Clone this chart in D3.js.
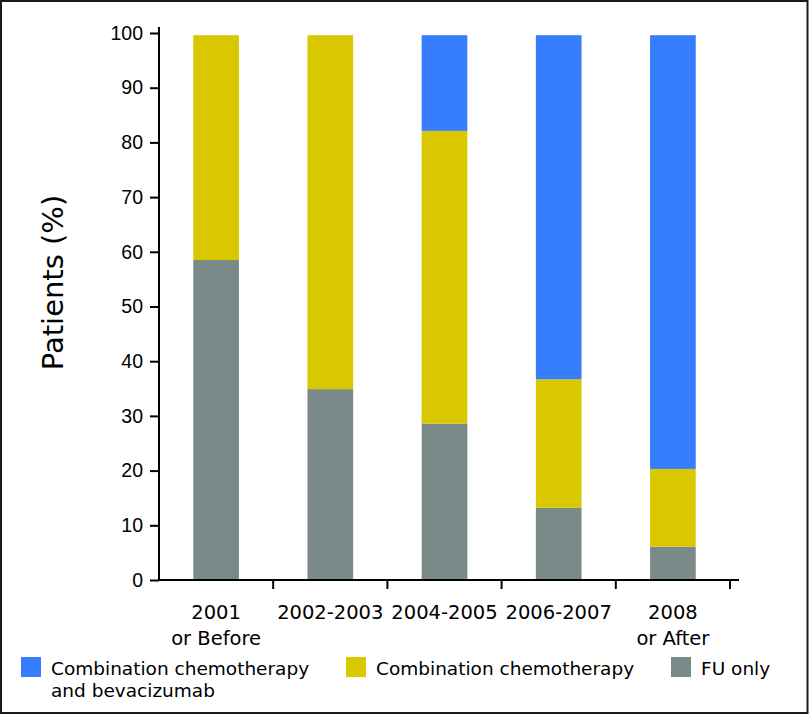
<!DOCTYPE html>
<html lang="en">
  <head>
    <meta charset="utf-8" />
    <title>Patients by treatment and period</title>
    <script type="text/javascript" src="https://d3js.org/d3.v7.min.js"></script>
    <style>
      body {
        margin: 0;
        background: white;
      }
      svg {
        display: block;
        font-family: "DejaVu Sans", sans-serif;
      }
      .axis path,
      .axis line {
        stroke: black;
        stroke-width: 2px;
      }
      .axis text {
        font-size: 19.5px;
        fill: black;
      }
    </style>
  </head>
  <body>
    <script>
      // data
      let periods = ["2001 or Before", "2002-2003", "2004-2005", "2006-2007", "2008 or After"];
      let periodLines = [["2001", "or Before"], ["2002-2003"], ["2004-2005"], ["2006-2007"], ["2008", "or After"]];
      let seriesNames = ["FU only", "Combination chemotherapy", "Combination chemotherapy and bevacizumab"];
      let fuOnly = [58.5, 34.9, 28.6, 13.2, 6.1];
      let comboChemo = [41.1, 64.7, 53.5, 23.5, 14.2];
      let comboBev = [0, 0, 17.5, 62.9, 79.3];
      let yTicks = [0, 10, 20, 30, 40, 50, 60, 70, 80, 90, 100];

      let colors = ["#7a8a89", "#d9c800", "#377eff"];

      let w = 809;
      let h = 715;
      let plotLeft = 159;
      let plotRight = 730;
      let plotTop = 33;
      let plotBottom = 580;

      let rows = periods.map((p, i) => ({
        period: p,
        fu: fuOnly[i],
        combo: comboChemo[i],
        bev: comboBev[i],
      }));

      let stack = d3.stack().keys(["fu", "combo", "bev"]);
      let layers = stack(rows);

      let svg = d3.select("body").append("svg").attr("width", w).attr("height", h);

      // frame round the figure
      svg
        .append("rect")
        .attr("x", 1)
        .attr("y", 1)
        .attr("width", w - 2.5)
        .attr("height", h - 3)
        .attr("fill", "none")
        .attr("stroke", "#1a1a1a")
        .attr("stroke-width", 2);

      let x_scale = d3.scaleBand().domain(periods).range([plotLeft, plotRight]).padding(0);
      let y_scale = d3.scaleLinear().domain([0, 100]).range([plotBottom, plotTop]);

      let barW = x_scale.bandwidth() * 0.4;

      svg
        .append("g")
        .selectAll("g")
        .data(layers)
        .join("g")
        .attr("fill", (d, i) => colors[i])
        .selectAll("rect")
        .data((d) => d)
        .join("rect")
        .attr("x", (d) => x_scale(d.data.period) + (x_scale.bandwidth() - barW) / 2)
        .attr("width", barW)
        .attr("y", (d) => y_scale(d[1]))
        .attr("height", (d) => y_scale(d[0]) - y_scale(d[1]));

      // y axis
      let y_axis = d3.axisLeft(y_scale).tickValues(yTicks).tickSize(9).tickPadding(7);
      let gy = svg
        .append("g")
        .attr("class", "y axis")
        .attr("transform", `translate(${plotLeft},0)`)
        .call(y_axis);
      gy.select(".domain").attr("d", `M0,${plotTop - 6}V${plotBottom}`);

      // x axis: ticks sit on the band edges
      let edges = periods.map((p) => x_scale(p) + x_scale.bandwidth());
      let gx = svg
        .append("g")
        .attr("class", "x axis")
        .attr("transform", `translate(0,${plotBottom})`);
      gx.append("path").attr("d", `M${plotLeft - 1},0H${plotRight + 9}`).attr("fill", "none");
      gx.selectAll("line")
        .data(edges)
        .join("line")
        .attr("x1", (d) => d)
        .attr("x2", (d) => d)
        .attr("y1", 0)
        .attr("y2", 9);

      gx.selectAll("text")
        .data(periods)
        .join("text")
        .attr("text-anchor", "middle")
        .attr("x", (d) => x_scale(d) + x_scale.bandwidth() / 2)
        .attr("y", 39)
        .each(function (d, i) {
          d3.select(this)
            .selectAll("tspan")
            .data(periodLines[i])
            .join("tspan")
            .attr("x", x_scale(d) + x_scale.bandwidth() / 2)
            .attr("dy", (t, j) => (j === 0 ? 0 : 26))
            .text((t) => t);
        });

      // y label
      svg
        .append("text")
        .attr("transform", `translate(63,${(plotTop + plotBottom) / 2 - 24}) rotate(-90)`)
        .attr("text-anchor", "middle")
        .style("font-size", "29px")
        .text("Patients (%)");

      // legend
      let legendItems = [
        { name: seriesNames[2], color: colors[2], x: 21, lines: ["Combination chemotherapy", "and bevacizumab"] },
        { name: seriesNames[1], color: colors[1], x: 346, lines: ["Combination chemotherapy"] },
        { name: seriesNames[0], color: colors[0], x: 671, lines: ["FU only"] },
      ];

      let lg = svg
        .append("g")
        .selectAll("g")
        .data(legendItems)
        .join("g")
        .attr("transform", (d) => `translate(${d.x},657)`);

      lg.append("rect").attr("width", 20).attr("height", 20).attr("fill", (d) => d.color);

      lg.append("text")
        .style("font-size", "18.5px")
        .selectAll("tspan")
        .data((d) => d.lines)
        .join("tspan")
        .attr("x", 30)
        .attr("y", (t, j) => 18 + j * 22)
        .text((t) => t);
    </script>
  </body>
</html>
